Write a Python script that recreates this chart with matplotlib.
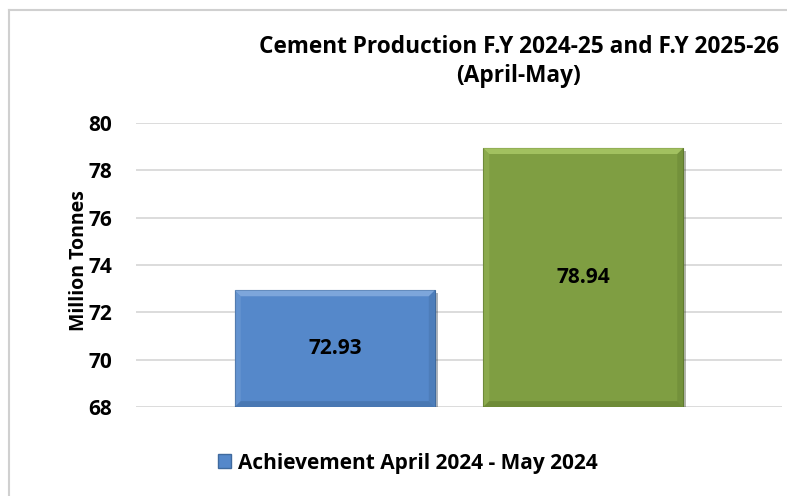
import numpy as np
import matplotlib.pyplot as plt
from matplotlib.patches import Polygon, Rectangle
from matplotlib.lines import Line2D
import matplotlib.patheffects as pe

plt.rcParams['font.family'] = ['Open Sans', 'DejaVu Sans']
plt.rcParams['font.weight'] = 'bold'

# data
categories = ['F.Y 2024-25', 'F.Y 2025-26']
values = [72.93, 78.94]
bar_colors = ['#5588CA', '#7F9E42']
dark_colors = ['#3F6A9E', '#5F7A2E']
light_colors = ['#8FB4E3', '#B2D06E']
y_ticks = [68, 70, 72, 74, 76, 78, 80]
legend_label = 'Achievement April 2024 - May 2024'
title = 'Cement Production F.Y 2024-25 and F.Y 2025-26\n(April-May)'

fig = plt.figure(figsize=(7.87, 4.96), dpi=100)
ax = fig.add_axes([0.1728, 0.1794, 0.8209, 0.5726])

y0 = y_ticks[0]
x = np.arange(len(values))
w = 0.805
bars = ax.bar(x, np.array(values) - y0, bottom=y0, width=w, color=bar_colors,
              edgecolor=dark_colors, linewidth=0.8, zorder=3,
              path_effects=[pe.SimplePatchShadow(offset=(2, -2), alpha=0.35), pe.Normal()])

# bevel highlight / shade
for b, lc, dc in zip(bars, light_colors, dark_colors):
    bx, by, bw, bh = b.get_x(), b.get_y(), b.get_width(), b.get_height()
    dx, dy = bw * 0.03, 0.25
    top = Polygon([(bx, by + bh), (bx + bw, by + bh), (bx + bw - dx, by + bh - dy), (bx + dx, by + bh - dy)],
                  closed=True, facecolor=lc, edgecolor='none', alpha=0.7, zorder=4)
    left = Polygon([(bx, by), (bx, by + bh), (bx + dx, by + bh - dy), (bx + dx, by + dy)],
                   closed=True, facecolor=lc, edgecolor='none', alpha=0.25, zorder=4)
    right = Polygon([(bx + bw, by), (bx + bw, by + bh), (bx + bw - dx, by + bh - dy), (bx + bw - dx, by + dy)],
                    closed=True, facecolor=dc, edgecolor='none', alpha=0.35, zorder=4)
    bottom = Polygon([(bx, by), (bx + bw, by), (bx + bw - dx, by + dy), (bx + dx, by + dy)],
                     closed=True, facecolor=dc, edgecolor='none', alpha=0.5, zorder=4)
    for p in (top, left, right, bottom):
        ax.add_patch(p)

for xi, v in zip(x, values):
    ax.text(xi, (y0 + v) / 2, f'{v:.2f}', ha='center', va='center',
            fontsize=15, fontweight='bold', color='black', zorder=5)

ax.set_ylim(y_ticks[0], y_ticks[-1])
ax.set_xlim(-0.8, 1.8)
ax.set_yticks(y_ticks)
ax.set_yticklabels([str(t) for t in y_ticks], fontsize=15, fontweight='bold')
ax.set_xticks([])
ax.tick_params(axis='y', length=0, pad=17)
ax.yaxis.grid(True, color='#D9D9D9', linewidth=1.3, zorder=0)
for s in ax.spines.values():
    s.set_visible(False)
ax.set_ylabel('Million Tonnes', fontsize=14, fontweight='bold')
ax.yaxis.set_label_coords(-0.072, 0.515)

fig.text(0.659, 0.876, title, ha='center', va='center', fontsize=16.3,
         fontweight='bold', linespacing=1.3)

handle = Rectangle((0, 0), 1, 1, facecolor=bar_colors[0], edgecolor=dark_colors[0])
fig.legend([handle], [legend_label], loc='center', bbox_to_anchor=(0.518, 0.066),
           frameon=False, handlelength=0.65, handleheight=0.65,
           handletextpad=0.3, prop={'weight': 'bold', 'size': 15})

# outer chart border
fig.add_artist(Line2D([9 / 787, 1], [1 - 10 / 496] * 2, color='#D0D0D0', lw=1.5, transform=fig.transFigure))
fig.add_artist(Line2D([9 / 787] * 2, [0, 1 - 10 / 496], color='#D0D0D0', lw=1.5, transform=fig.transFigure))

fig.savefig('out.png', dpi=100)
